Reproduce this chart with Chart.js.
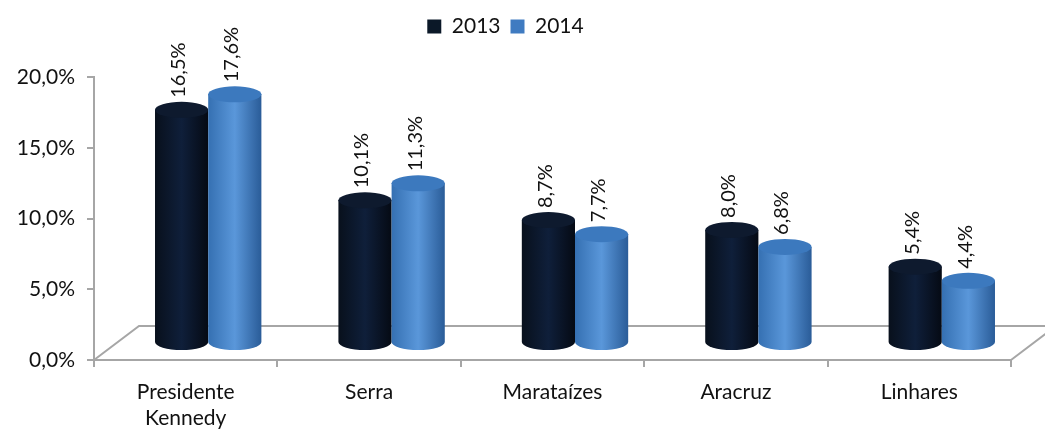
<!DOCTYPE html>
<html>
<head>
<meta charset="utf-8">
<script src="https://cdn.jsdelivr.net/npm/chart.js@4"></script>
<style>
  html, body { margin: 0; padding: 0; background: #fff; }
  #wrap { width: 1045px; height: 430px; }
</style>
</head>
<body>
<div id="wrap"><canvas id="chart" width="1045" height="430"></canvas></div>
<script>
const categories = [['Presidente', 'Kennedy'], 'Serra', 'Marataízes', 'Aracruz', 'Linhares']
const values2013 = [16.5, 10.1, 8.7, 8.0, 5.4]
const values2014 = [17.6, 11.3, 7.7, 6.8, 4.4]
const yTicks = [0, 5, 10, 15, 20]

const FONT = 'Lato, "Open Sans", sans-serif'
const DEPTH_X = 45
const DEPTH_Y = -34

function pct(v) {
    return v.toFixed(1).replace('.', ',') + '%'
}

// colours for the cylinder shading: left edge, highlight, right edge, top
const shades = [
    { left: '#08101c', mid: '#0f1f3a', right: '#050a14', top: '#0e1a2e' },
    { left: '#3570b2', mid: '#5a97da', right: '#2a5c98', top: '#3c79be' },
]

const floorPlugin = {
    id: 'floor',
    beforeDatasetsDraw(chart) {
        const { ctx, chartArea } = chart
        const b = chartArea.bottom
        ctx.save()
        ctx.strokeStyle = '#a6a6a6'
        ctx.lineWidth = 2
        ctx.beginPath()
        ctx.moveTo(chartArea.left, b)
        ctx.lineTo(chartArea.left + DEPTH_X, b + DEPTH_Y)
        ctx.lineTo(chartArea.right + DEPTH_X, b + DEPTH_Y)
        ctx.moveTo(chartArea.right, b)
        ctx.lineTo(chartArea.right + DEPTH_X, b + DEPTH_Y)
        ctx.stroke()
        ctx.restore()
    },
}

const cylinderPlugin = {
    id: 'cylinders',
    beforeDatasetDraw() {
        return false
    },
    afterDatasetsDraw(chart) {
        const { ctx } = chart
        const dx = DEPTH_X / 2
        const dy = DEPTH_Y / 2
        const ry = 8
        chart.data.datasets.forEach((ds, di) => {
            const meta = chart.getDatasetMeta(di)
            const s = shades[di]
            meta.data.forEach((bar, i) => {
                const w = bar.width
                const cx = bar.x + dx
                const x0 = cx - w / 2
                const x1 = cx + w / 2
                const top = bar.y + dy
                const base = bar.base + dy
                const g = ctx.createLinearGradient(x0, 0, x1, 0)
                g.addColorStop(0, s.left)
                g.addColorStop(0.5, s.mid)
                g.addColorStop(1, s.right)
                ctx.save()
                ctx.fillStyle = g
                ctx.beginPath()
                ctx.moveTo(x0, top)
                ctx.lineTo(x0, base)
                ctx.ellipse(cx, base, w / 2, ry, 0, Math.PI, 0, true)
                ctx.lineTo(x1, top)
                ctx.closePath()
                ctx.fill()
                ctx.fillStyle = s.top
                ctx.beginPath()
                ctx.ellipse(cx, top, w / 2, ry, 0, 0, Math.PI * 2)
                ctx.fill()

                // value label, rotated
                ctx.translate(cx - 3, top - ry - 4)
                ctx.rotate(-Math.PI / 2)
                ctx.fillStyle = '#111'
                ctx.font = '20px ' + FONT
                ctx.textAlign = 'left'
                ctx.textBaseline = 'middle'
                ctx.fillText(pct(ds.data[i]), 0, 0)
                ctx.restore()
            })
        })
    },
}

const ctx = document.getElementById('chart').getContext('2d')
const myChart = new Chart(ctx, {
    type: 'bar',
    data: {
        labels: categories,
        datasets: [
            { label: '2013', data: values2013, backgroundColor: '#0b1828' },
            { label: '2014', data: values2014, backgroundColor: '#3f7bc1' },
        ],
    },
    options: {
        responsive: false,
        animation: false,
        layout: { padding: { top: 6, right: 34, left: 0, bottom: 0 } },
        datasets: {
            bar: { categoryPercentage: 0.58, barPercentage: 1 },
        },
        plugins: {
            legend: {
                position: 'top',
                labels: {
                    boxWidth: 14,
                    boxHeight: 14,
                    padding: 10,
                    color: '#111',
                    font: { family: FONT, size: 21 },
                },
            },
            // empty spacer between legend and plot
            subtitle: {
                display: true,
                text: '',
                weight: 500,
                font: { size: 2 },
                padding: { top: 14, bottom: 14 },
            },
            tooltip: { enabled: false },
        },
        scales: {
            x: {
                grid: {
                    offset: true,
                    drawOnChartArea: false,
                    tickLength: 7,
                    color: '#a6a6a6',
                    lineWidth: 2,
                },
                border: { color: '#a6a6a6', width: 2 },
                ticks: {
                    color: '#111',
                    font: { family: FONT, size: 21, lineHeight: 1.25 },
                    maxRotation: 0,
                    padding: 12,
                },
                afterFit(scale) {
                    scale.height = 70
                },
            },
            y: {
                min: 0,
                max: 20,
                afterBuildTicks(scale) {
                    scale.ticks = yTicks.map(v => ({ value: v }))
                },
                grid: {
                    drawOnChartArea: false,
                    tickLength: 7,
                    color: '#a6a6a6',
                    lineWidth: 2,
                },
                border: { color: '#a6a6a6', width: 2 },
                ticks: {
                    color: '#111',
                    font: { family: FONT, size: 21 },
                    padding: 12,
                    callback: v => pct(v),
                },
                afterFit(scale) {
                    scale.width = 94
                },
            },
        },
    },
    plugins: [floorPlugin, cylinderPlugin],
})
</script>
</body>
</html>
